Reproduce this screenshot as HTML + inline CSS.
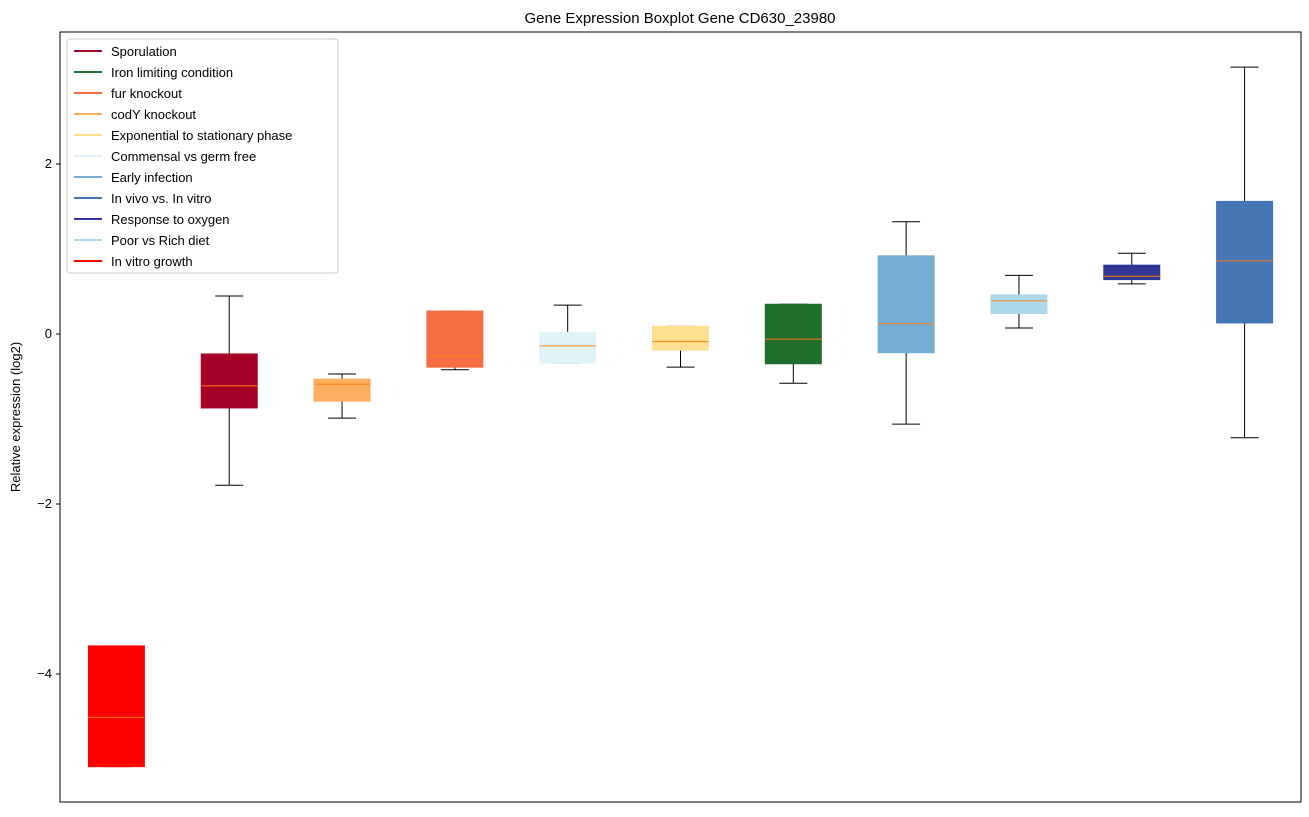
<!DOCTYPE html>
<html><head><meta charset="utf-8"><style>
body{margin:0;background:#fff;}
svg text{font-family:"Liberation Sans","DejaVu Sans",sans-serif;}
</style></head><body>
<svg id="chart" width="1309" height="812" xmlns="http://www.w3.org/2000/svg">
<rect width="1309" height="812" fill="#fff"/>
<text x="680" y="23" text-anchor="middle" font-size="15" fill="#000">Gene Expression Boxplot Gene CD630_23980</text>
<text transform="translate(20,417) rotate(-90)" text-anchor="middle" font-size="13" fill="#000">Relative expression (log2)</text>
<g id="plot"></g>
<rect x="60" y="32" width="1241" height="770" fill="none" stroke="#000" stroke-width="1"/>
<g id="legend"></g>
</svg>
<script>
const categories = ["In vitro growth","Sporulation","codY knockout","fur knockout","Commensal vs germ free","Exponential to stationary phase","Iron limiting condition","Early infection","Poor vs Rich diet","Response to oxygen","In vivo vs. In vitro"];
const colors = ["#ff0000","#a50026","#fdae61","#f46d43","#e0f3f8","#fee090","#216e2c","#74add1","#abd9e9","#313695","#4575b4"];
const whiskerLow = [-5.09,-1.78,-0.99,-0.42,-0.34,-0.39,-0.58,-1.06,0.07,0.59,-1.22];
const q1 = [-5.09,-0.87,-0.79,-0.39,-0.34,-0.19,-0.35,-0.22,0.24,0.64,0.13];
const medians = [-4.51,-0.61,-0.59,-0.26,-0.14,-0.09,-0.06,0.12,0.39,0.68,0.86];
const q3 = [-3.67,-0.235,-0.53,0.27,0.02,0.09,0.35,0.92,0.46,0.81,1.56];
const whiskerHigh = [-3.67,0.447,-0.47,0.27,0.34,0.09,0.35,1.32,0.69,0.95,3.14];
const yTicks = [-4,-2,0,2];
const legendLabels = ["Sporulation","Iron limiting condition","fur knockout","codY knockout","Exponential to stationary phase","Commensal vs germ free","Early infection","In vivo vs. In vitro","Response to oxygen","Poor vs Rich diet","In vitro growth"];
const legendColors = ["#a50026","#216e2c","#f46d43","#fdae61","#fee090","#e0f3f8","#74add1","#4575b4","#313695","#abd9e9","#ff0000"];

const NS="http://www.w3.org/2000/svg";
const L=60,R=1301,T=32,B=802;
const yMin=-5.506,yMax=3.553;
const y=v=>B-(v-yMin)/(yMax-yMin)*(B-T);
const x=i=>L+(i+1-0.5)/11*(R-L);
function mk(tag,attrs,parent){const e=document.createElementNS(NS,tag);for(const k in attrs)e.setAttribute(k,attrs[k]);parent.appendChild(e);return e;}
const plot=document.getElementById('plot');
yTicks.forEach(t=>{
  const g=mk('g',{},plot);
  
  
  mk('line',{x1:L-4,x2:L,y1:y(t),y2:y(t),stroke:'#000'},g);
  const tx=mk('text',{x:L-8,y:y(t)+4,'text-anchor':'end','font-size':'13'},g);
  tx.textContent=(t<0?'\u2212'+(-t):t);
});
const bw=56;
categories.forEach((c,i)=>{
  const g=mk('g',{},plot);
  
  
  const cx=x(i);
  mk('line',{x1:cx,x2:cx,y1:y(whiskerHigh[i]),y2:y(q3[i]),stroke:'#000'},g);
  mk('line',{x1:cx,x2:cx,y1:y(q1[i]),y2:y(whiskerLow[i]),stroke:'#000'},g);
  mk('line',{x1:cx-14,x2:cx+14,y1:y(whiskerHigh[i]),y2:y(whiskerHigh[i]),stroke:'#000'},g);
  mk('line',{x1:cx-14,x2:cx+14,y1:y(whiskerLow[i]),y2:y(whiskerLow[i]),stroke:'#000'},g);
  mk('rect',{x:cx-bw/2,y:y(q3[i]),width:bw,height:y(q1[i])-y(q3[i]),fill:colors[i],stroke:colors[i]},g);
  mk('line',{x1:cx-bw/2,x2:cx+bw/2,y1:y(medians[i]),y2:y(medians[i]),stroke:'#ff7f0e'},g);
});
const lg=document.getElementById('legend');


mk('rect',{x:67,y:39,width:271,height:234,rx:3,fill:'#fff','fill-opacity':0.85,stroke:'#ccc'},lg);
legendLabels.forEach((l,i)=>{
  const g=mk('g',{},lg);
  
  
  const yy=51+i*21;
  mk('line',{x1:74,x2:102,y1:yy,y2:yy,stroke:legendColors[i],'stroke-width':2},g);
  const t=mk('text',{x:111,y:yy+5,'font-size':'13'},g);
  t.textContent=l;
});
</script>
</body></html>
